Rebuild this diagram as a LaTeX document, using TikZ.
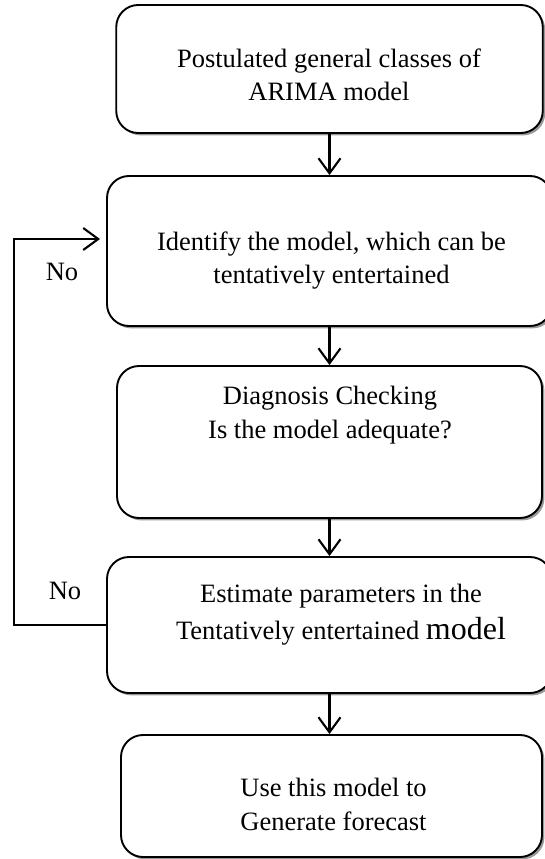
\documentclass[tikz,border=0pt]{standalone}
\usepackage{fontspec}
\setmainfont{Liberation Serif}
\usetikzlibrary{arrows.meta,shadows}
\begin{document}
\begin{tikzpicture}[x=1pt,y=-1pt,
  box/.style={draw=black, line width=1.9pt, rounded corners=22pt, fill=white, inner sep=0pt,
    drop shadow={shadow xshift=2.4pt, shadow yshift=-2.4pt, fill=black!40, opacity=1}},
  txt/.style={align=center, font=\fontsize{26.5}{33.5}\selectfont, inner sep=0pt, anchor=base},
  lbl/.style={font=\fontsize{26.5}{33.5}\selectfont, inner sep=0pt},
  link/.style={line width=2.1pt},
  flow/.style={link, -{Straight Barb[length=15pt,width=22pt,line width=2.1pt]}}]
\useasboundingbox (0,0) rectangle (545,859);
\clip (0,0) rectangle (545,859);
% boxes
\node[box, minimum width=426.5pt, minimum height=128pt] (b1) at (329.5,69) {};
\node[box, minimum width=445pt, minimum height=150pt] (b2) at (329.5,251) {};
\node[box, minimum width=425pt, minimum height=152pt] (b3) at (329.5,442) {};
\node[box, minimum width=445pt, minimum height=136pt] (b4) at (329.5,625) {};
\node[box, minimum width=421pt, minimum height=122pt] (b5) at (331.5,796) {};
% texts (anchor = baseline of last line)
\node[txt] (t1) at (329,100.5) {Postulated general classes of\\ARIMA model};
\node[txt] (t2) at (331.5,283.5) {Identify the model, which can be\\tentatively entertained};
\node[txt] (t3) at (330,438) {Diagnosis Checking\\Is the model adequate?};
\node[txt] (t4) at (341,639) {Estimate parameters in the\\[3pt]Tentatively entertained {\fontsize{32}{36}\selectfont model}};
\node[txt] (t5) at (333.5,830) {Use this model to\\Generate forecast};
% labels
\node[lbl] (no1) at (62,272) {No};
\node[lbl] (no2) at (65,591) {No};
% connectors
\draw[flow] (b1.south) -- (b1.south |- b2.north);
\draw[flow] (b2.south) -- (b2.south |- b3.north);
\draw[flow] (b3.south) -- (b3.south |- b4.north);
\draw[flow] (b4.south) -- (b4.south |- b5.north);
\coordinate (fb) at (14,400);
\coordinate (fbend) at (100,239);
\draw[flow] (b4.west) -| (fb) |- (fbend);
\end{tikzpicture}
\end{document}
